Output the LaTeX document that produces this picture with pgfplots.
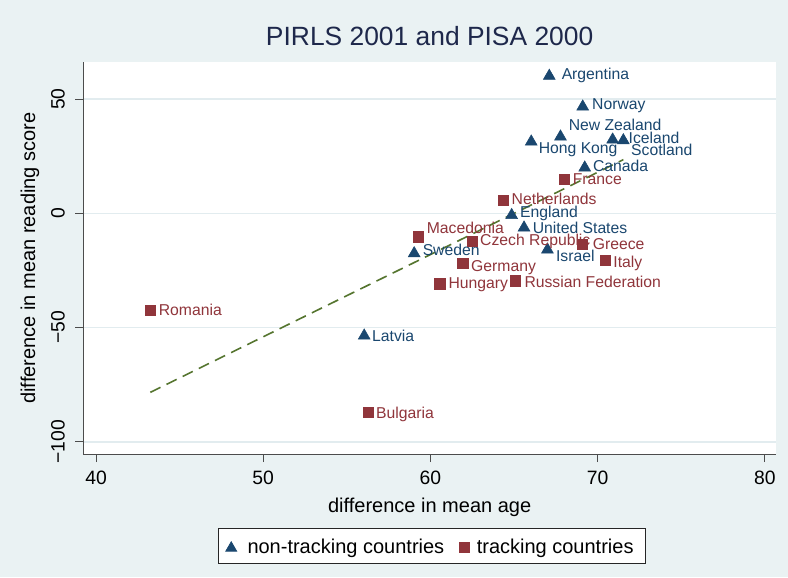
\documentclass[border=0pt]{standalone}
\usepackage{fontspec}
\setmainfont{Liberation Sans}
\usepackage{pgfplots}
\usepackage{pgfplotstable}
\pgfplotsset{compat=1.18}

\definecolor{stnavy}{RGB}{26,71,111}
\definecolor{stmaroon}{RGB}{144,53,59}
\definecolor{stgreen}{RGB}{85,117,47}
\definecolor{stbg}{RGB}{234,242,243}
\definecolor{stgrid}{RGB}{226,236,239}
\definecolor{sttitle}{RGB}{30,40,75}

\pgfplotsset{
    tri legend/.style={legend image code/.code={\path[draw=none, fill=none] (-10pt,-11.85pt) rectangle (12.2pt,13.95pt);
        \draw[##1, mark size=4.7pt] plot coordinates {(0pt,-0.6pt)};}},
    sq legend/.style={legend image code/.code={\path[draw=none, fill=none] (-15pt,-11.85pt) rectangle (9.4pt,13.95pt);
        \draw[##1, mark size=3.7pt] plot coordinates {(0pt,-0.3pt)};}},
    country labels/.style={nodes near coords, point meta=explicit symbolic,
        visualization depends on={\thisrow{dx} \as \ldx},
        visualization depends on={\thisrow{by} \as \lby},
        nodes near coords style={anchor=base west, inner sep=0pt, text=#1,
            font=\fontsize{11.8}{14}\selectfont,
            xshift={(\ldx-0.8)*0.75pt}, yshift={(\lby)*(-0.75pt)}}},
}

% x = age difference, y = reading score difference, dx/by = label offset (px)
\pgfplotstableread{
x y dx by label
67.11 60.09 13 4 Argentina
69.11 46.65 10 3.3 Norway
67.78 33.52 8.8 -5.7 {New Zealand}
66.03 31.33 8.1 11.6 {Hong Kong}
70.90 32.21 16.6 3.6 Iceland
71.54 31.90 8.4 15.6 Scotland
69.23 19.96 8.9 4 Canada
64.86 -0.83 9 2.1 England
65.60 -6.30 9.3 5.6 {United States}
67.00 -15.93 9.2 12 Israel
59.03 -17.55 9.1 2.6 Sweden
56.04 -53.57 8.5 5.3 Latvia
}\nontrack

\pgfplotstableread{
x y dx by label
68.01 15.01 9 5.7 France
64.34 5.82 9.3 5 Netherlands
59.26 -10.24 9.3 -2.7 Macedonia
62.49 -12.25 8.7 4.7 {Czech Republic}
69.07 -13.57 11.3 5.7 Greece
61.94 -21.88 8.9 8.4 Germany
70.46 -20.57 8.7 7.4 Italy
60.56 -30.81 9.3 5.3 Hungary
65.08 -29.54 9.7 6.9 {Russian Federation}
43.25 -42.45 9 5.4 Romania
56.27 -86.96 8.7 6 Bulgaria
}\track

\begin{document}
\begin{tikzpicture}
\fill[stbg] (-62.475pt,-92.25pt) rectangle (528.5pt,340.5pt);
\begin{axis}[
    scale only axis,
    width=519.5pt, height=293.8pt,
    xmin=39.24, xmax=80.67, ymin=-105.34, ymax=66.08,
    clip=false,
    axis x line*=bottom, axis y line*=left,
    axis line style={black!70, line width=0.6pt},
    tick style={black!70, line width=0.6pt},
    tick align=outside, major tick length=6pt,
    xtick={40,50,60,70,80},
    ytick={-100,-50,0,50}, yticklabels={−100,−50,0,50},
    ymajorgrids, grid style={stgrid, line width=1.1pt},
    axis background/.style={fill=white},
    ticklabel style={font=\fontsize{14.5}{17}\selectfont, inner sep=0pt},
    /pgf/number format/assume math mode=true,
    xticklabel shift=6.5pt,
    yticklabel shift=7.7pt,
    yticklabel style={rotate=90, anchor=south},
    title={PIRLS 2001 and PISA 2000},
    title style={font=\fontsize{19.8}{23}\selectfont, text=sttitle, at={(0.5,1)}, anchor=base, yshift=6.75pt, inner sep=0pt},
    xlabel={difference in mean age},
    xlabel style={font=\fontsize{15}{18}\selectfont, at={(axis description cs:0.5,0)}, anchor=base, yshift=-44pt, inner sep=0pt},
    ylabel={difference in mean reading score},
    ylabel style={font=\fontsize{15}{18}\selectfont, at={(axis description cs:-0.0697,0.5)}, anchor=base, inner sep=0pt},
    legend columns=2, legend cell align=left,
    legend style={at={(axis description cs:0.503,0)}, anchor=north, yshift=-55.7pt,
        draw=black!85, line width=0.6pt, fill=white, font=\fontsize{15}{18}\selectfont,
        inner xsep=0pt, inner ysep=0pt, nodes={inner sep=0pt, draw=none, fill=none}, column sep=0pt},
]
\addplot[only marks, mark=triangle*, mark size=5.1pt, color=stnavy,
    country labels=stnavy, tri legend]
    table[x=x, y=y, meta=label] {\nontrack};
\addlegendentry{non-tracking countries}
\addplot[only marks, mark=square*, mark size=3.9pt, color=stmaroon,
    country labels=stmaroon, sq legend]
    table[x=x, y=y, meta=label] {\track};
\addlegendentry{tracking countries\hspace*{9pt}}
\addplot[forget plot, stgreen, line width=1.2pt, dash pattern=on 8.5pt off 5pt]
    coordinates {(43.25,-78.35) (71.54,23.47)};
\end{axis}
\pgfresetboundingbox
\path (-62.475pt,-92.25pt) rectangle (528.5pt,340.5pt);
\end{tikzpicture}
\end{document}
